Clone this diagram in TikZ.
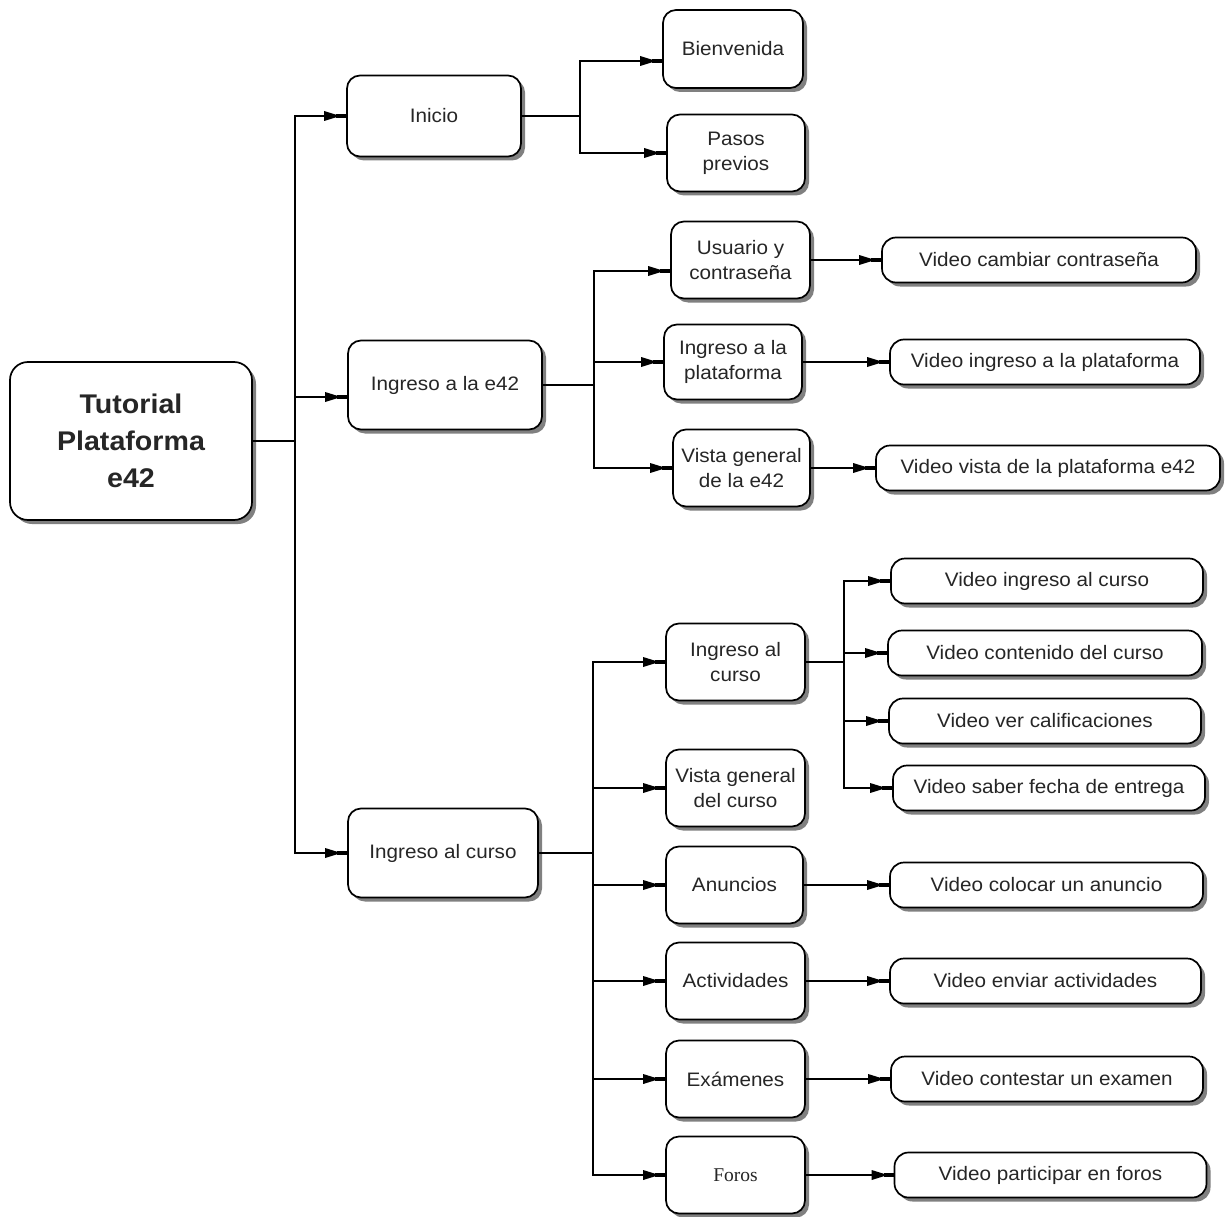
\documentclass[tikz,border=0pt]{standalone}
\usepackage{fontspec}
\setmainfont{Liberation Sans}[FakeStretch=1.06]
\newfontfamily\serifbox{Liberation Serif}
\usetikzlibrary{shadows,decorations.markings}
\tikzset{
  box/.style={draw=black, line width=1.7pt, rounded corners=13pt, fill=white,
    align=center, text=black!85, inner sep=2pt,
    font=\fontsize{19.5}{25}\selectfont,
    drop shadow={shadow xshift=4pt, shadow yshift=-4pt, fill=black!50, opacity=1}},
  midbox/.style={box, minimum width=138pt, minimum height=77pt},
  vidbox/.style={box, minimum width=312pt, minimum height=45pt, rounded corners=14pt},
  line/.style={draw=black, line width=1.8pt},
  arr/.style={line, postaction={decorate}, decoration={markings,
    mark=at position 1 with {
      \fill[black] (-6pt,0) -- (-22pt,5pt) -- (-22pt,-5pt) -- cycle;
      \fill[black] (-10pt,-2.2pt) rectangle (0pt,2.2pt);}}}
}
\begin{document}
\begin{tikzpicture}[x=1pt,y=-1pt]
\useasboundingbox[fill=white] (0,0) rectangle (1228,1217);

% root
\node[box, minimum width=242pt, minimum height=158pt, rounded corners=18pt,
  font=\fontsize{27}{37}\selectfont\bfseries] (root) at (131,441) {Tutorial\\Plataforma\\e42};

% level 1
\node[box, minimum width=174pt, minimum height=81pt] (inicio) at (434,116) {Inicio};
\node[box, minimum width=194pt, minimum height=89pt] (ing42) at (445,385) {Ingreso a la e42};
\node[box, minimum width=190pt, minimum height=89pt] (ingcur) at (443,853) {Ingreso al curso};

% Inicio children
\node[midbox, minimum width=140pt, minimum height=78pt] (bienv) at (733,49) {Bienvenida};
\node[midbox] (pasos) at (736,153) {Pasos\\previos};

% Ingreso a la e42 children
\node[midbox, minimum width=139pt] (usuario) at (740.5,260) {Usuario y\\contraseña};
\node[midbox, minimum height=75pt] (ingplat) at (733,362) {Ingreso a la\\plataforma};
\node[midbox, minimum width=137pt] (vistae42) at (741.5,468) {Vista general\\de la e42};

\node[vidbox, minimum width=314pt] (vcambiar) at (1039,260) {Video cambiar contraseña};
\node[vidbox, minimum width=310pt] (vingplat) at (1045,362) {Video ingreso a la plataforma};
\node[vidbox, minimum width=344pt] (vvista) at (1048,468) {Video vista de la plataforma e42};

% Ingreso al curso children
\node[midbox, minimum width=139pt] (ingcur2) at (735.5,662) {Ingreso al\\curso};
\node[midbox, minimum width=139pt] (vistacur) at (735.5,788) {Vista general\\del curso};
\node[midbox, minimum width=137pt] (anuncios) at (734.5,885) {Anuncios};
\node[midbox, minimum width=139pt] (activ) at (735.5,981) {Actividades};
\node[midbox, minimum width=139pt] (exam) at (735.5,1079) {Exámenes};
\node[midbox, minimum width=139pt, font=\serifbox\fontsize{19.5}{25}\selectfont] (foros) at (735.5,1175) {Foros};

\node[vidbox] (vingcur) at (1047,581) {Video ingreso al curso};
\node[vidbox, minimum width=314pt] (vcont) at (1045,653) {Video contenido del curso};
\node[vidbox] (vcalif) at (1045,721) {Video ver calificaciones};
\node[vidbox] (vfecha) at (1049,788) {Video saber fecha de entrega};
\node[vidbox, minimum width=313pt] (vanuncio) at (1046.5,885) {Video colocar un anuncio};
\node[vidbox, minimum width=311pt] (venviar) at (1045.5,981) {Video enviar actividades};
\node[vidbox] (vexamen) at (1047,1079) {Video contestar un examen};
\node[vidbox] (vforos) at (1050.5,1175) {Video participar en foros};

% junctions
\coordinate (j0) at (295,441);
\coordinate (j1) at (580,116);
\coordinate (j2) at (594,385);
\coordinate (j3) at (593,853);
\coordinate (j4) at (844,662);

% root connectors
\draw[line] (root.east) -- (j0);
\draw[arr] (j0) |- (inicio.west);
\draw[arr] (j0) |- ([yshift=-12pt]ing42.west);
\draw[arr] (j0) |- (ingcur.west);

% Inicio
\draw[line] (inicio.east) -- (j1);
\draw[arr] (j1) |- ([yshift=-12pt]bienv.west);
\draw[arr] (j1) |- (pasos.west);

% Ingreso a la e42
\draw[line] (ing42.east) -- (j2);
\draw[arr] (j2) |- ([yshift=-11pt]usuario.west);
\draw[arr] (j2) |- (ingplat.west);
\draw[arr] (j2) |- (vistae42.west);
\draw[arr] (usuario.east) -- (vcambiar.west);
\draw[arr] (ingplat.east) -- (vingplat.west);
\draw[arr] (vistae42.east) -- (vvista.west);

% Ingreso al curso
\draw[line] (ingcur.east) -- (j3);
\draw[arr] (j3) |- (ingcur2.west);
\draw[arr] (j3) |- (vistacur.west);
\draw[arr] (j3) |- (anuncios.west);
\draw[arr] (j3) |- (activ.west);
\draw[arr] (j3) |- (exam.west);
\draw[arr] (j3) |- (foros.west);

\draw[line] (ingcur2.east) -- (j4);
\draw[arr] (j4) |- (vingcur.west);
\draw[arr] (j4) |- (vcont.west);
\draw[arr] (j4) |- (vcalif.west);
\draw[arr] (j4) |- (vfecha.west);

\draw[arr] (anuncios.east) -- (vanuncio.west);
\draw[arr] (activ.east) -- (venviar.west);
\draw[arr] (exam.east) -- (vexamen.west);
\draw[arr] (foros.east) -- (vforos.west);
\end{tikzpicture}
\end{document}
